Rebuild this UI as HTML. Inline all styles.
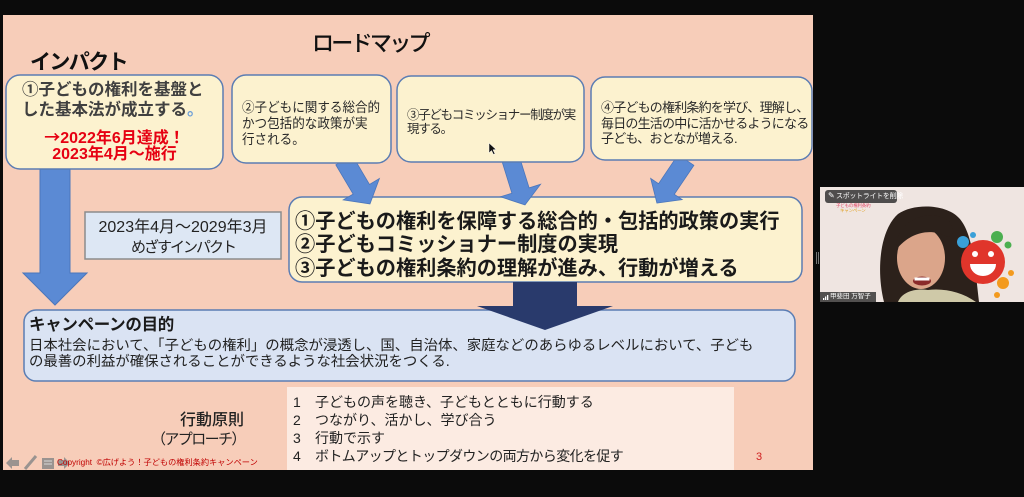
<!DOCTYPE html>
<html><head><meta charset="utf-8">
<style>
html,body{margin:0;padding:0;}
body{width:1024px;height:497px;background:#0b0b0b;position:relative;overflow:hidden;font-family:"Liberation Sans","Noto Sans CJK JP",sans-serif;}
svg{position:absolute;left:0;top:0;}
.t{position:absolute;white-space:nowrap;line-height:1;}
</style></head><body>
<svg width="1024" height="497" viewBox="0 0 1024 497">
  <!-- slide background -->
  <rect x="3" y="15" width="810" height="455" fill="#f7cdb9"/>
  <!-- lower principle box -->
  <rect x="287" y="387" width="447" height="83" fill="#fcebe2"/>
  <!-- date box -->
  <rect x="85" y="212" width="196" height="47" fill="#dde7f4" stroke="#8c8c8c" stroke-width="1.5"/>
  <!-- vertical big arrow -->
  <polygon points="40,168 70,168 70,273 87,273 55,305 23,273 40,273" fill="#5b8ad4" stroke="#4b76bb" stroke-width="1"/>
  <!-- campaign box -->
  <rect x="24" y="310" width="771" height="71" rx="12" fill="#dae3f3" stroke="#5b7db3" stroke-width="1.5"/>
  <!-- big yellow box -->
  <rect x="289" y="197" width="513" height="85" rx="13" fill="#fcf2cf" stroke="#5b7db3" stroke-width="1.5"/>
  <!-- dark arrow -->
  <polygon points="513,282 577,282 577,306 613,306 545,330 477,306 513,306" fill="#293a6c"/>
  <!-- diagonal arrows -->
  <g fill="#5b8ad4" stroke="#4b76bb" stroke-width="0.8">
    <polygon transform="translate(344,160) rotate(-30.6)" points="-9.5,0 9.5,0 9.5,34 21,34 0,51 -21,34 -9.5,34"/>
    <polygon transform="translate(511,160) rotate(-17.3)" points="-9,0 9,0 9,32 21,32 0,47 -21,32 -9,32"/>
    <polygon transform="translate(686,160) rotate(34)" points="-9.5,0 9.5,0 9.5,35 19,35 0,52 -19,35 -9.5,35"/>
  </g>
  <!-- top boxes -->
  <rect x="6" y="75" width="217" height="94" rx="14" fill="#fcf2cf" stroke="#5b7db3" stroke-width="1.5"/>
  <rect x="232" y="75" width="159" height="88" rx="14" fill="#fcf2cf" stroke="#5b7db3" stroke-width="1.5"/>
  <rect x="397" y="76" width="187" height="86" rx="14" fill="#fcf2cf" stroke="#5b7db3" stroke-width="1.5"/>
  <rect x="591" y="77" width="221" height="83" rx="14" fill="#fcf2cf" stroke="#5b7db3" stroke-width="1.5"/>
  <!-- mouse cursor -->
  <polygon points="489,143 489,153 491.5,150.5 493.5,154.5 495,153.8 493,149.8 496,149.5" fill="#111" stroke="#fff" stroke-width="0.5"/>
  <!-- bottom-left toolbar icons -->
  <g fill="#8a8a8a" opacity="0.85">
    <polygon points="6,463 12,457 12,460 19,460 19,466 12,466 12,469"/>
    <line x1="25" y1="469" x2="36" y2="456" stroke="#8a8a8a" stroke-width="3"/>
    <rect x="42" y="458" width="12" height="11"/>
    <polygon points="70,463 64,457 64,460 58,460 58,466 64,466 64,469"/>
  </g>
  <g stroke="#d8d8d8" stroke-width="1">
    <line x1="44" y1="461" x2="52" y2="461"/>
    <line x1="44" y1="464" x2="52" y2="464"/>
  </g>
  <!-- separator handle -->
  <rect x="816" y="252" width="1" height="12" fill="#777"/>
  <rect x="818" y="252" width="1" height="12" fill="#777"/>
  <!-- video panel -->
  <rect x="820" y="187" width="204" height="115" fill="#efe5e1"/>
  <path d="M884,302 C876,270 880,230 898,214 C914,203 946,204 959,218 C973,233 975,268 979,302 Z" fill="#2c211b"/>
  <path d="M898,302 C902,292 915,288 928,290 C944,288 962,292 976,302 Z" fill="#cfc9a8"/>
  <ellipse cx="921" cy="258" rx="24" ry="31" fill="#dba58a"/>
  <path d="M896,246 C898,220 928,208 948,220 C956,228 954,240 946,236 C930,228 910,232 896,250 Z" fill="#2c211b"/>
  <ellipse cx="922" cy="281" rx="9" ry="4.5" fill="#8a2a2a"/>
  <rect x="914.5" y="277.5" width="15" height="3" fill="#fff"/>
  <!-- smiley -->
  <circle cx="983" cy="262" r="22" fill="#e0352b"/>
  <circle cx="975" cy="254" r="3" fill="#fff"/>
  <circle cx="991" cy="254" r="3" fill="#fff"/>
  <path d="M970,264 L996,264 A13,12 0 0 1 970,264 Z" fill="#fff"/>
  <circle cx="963" cy="242" r="6" fill="#3aa0d8"/>
  <circle cx="973" cy="235" r="3" fill="#3aa0d8"/>
  <circle cx="997" cy="237" r="6" fill="#4caf50"/>
  <circle cx="1008" cy="245" r="3.5" fill="#4caf50"/>
  <circle cx="1003" cy="283" r="6" fill="#f39a1e"/>
  <circle cx="1011" cy="273" r="3" fill="#f39a1e"/>
  <circle cx="997" cy="295" r="3" fill="#f39a1e"/>
  <!-- labels -->
  <rect x="825" y="190" width="72" height="13" rx="3" fill="#333" opacity="0.85"/>
  <rect x="820" y="292" width="56" height="10" fill="#2a2a2a" opacity="0.8"/>
  <g fill="#fff"><rect x="823" y="298" width="1.3" height="2"/><rect x="825" y="296.5" width="1.3" height="3.5"/><rect x="827" y="295" width="1.3" height="5"/></g>
</svg>

<!-- Slide text -->
<div class="t" style="left:312px;top:32.5px;font-size:22px;letter-spacing:-2.7px;font-weight:500;color:#111;">ロードマップ</div>
<div class="t" style="left:30px;top:52px;font-size:21px;letter-spacing:-1.6px;font-weight:bold;color:#111;">インパクト</div>

<div class="t" style="left:22px;top:82.2px;font-size:16.5px;font-weight:bold;color:#404040;">①子どもの権利を基盤と</div>
<div class="t" style="left:22px;top:102.2px;font-size:16.5px;font-weight:bold;color:#404040;">した基本法が成立する<span style="color:#6fa0d8">。</span></div>
<div class="t" style="left:6px;width:217px;text-align:center;top:127.5px;font-size:16px;font-weight:bold;color:#e60012;"><span style="font-family:'Noto Sans CJK JP',sans-serif;">→</span>2022年6月達成！</div>
<div class="t" style="left:6px;width:217px;text-align:center;top:146.5px;font-size:16px;font-weight:bold;color:#e60012;">2023年4月～施行</div>

<div class="t" style="left:242px;top:100.5px;font-size:13.8px;color:#2a2a2a;transform:scaleX(0.91);transform-origin:left center;">②子どもに関する総合的</div>
<div class="t" style="left:242px;top:116.5px;font-size:13.8px;color:#2a2a2a;transform:scaleX(0.91);transform-origin:left center;">かつ包括的な政策が実</div>
<div class="t" style="left:242px;top:132.5px;font-size:13.8px;color:#2a2a2a;transform:scaleX(0.91);transform-origin:left center;">行される。</div>

<div class="t" style="left:407px;top:109.1px;font-size:12.5px;letter-spacing:-1.3px;color:#2a2a2a;">③子どもコミッショナー制度が実</div>
<div class="t" style="left:407px;top:123.1px;font-size:12.5px;letter-spacing:-1.3px;color:#2a2a2a;">現する。</div>

<div class="t" style="left:601px;top:100.9px;font-size:13px;letter-spacing:-0.8px;color:#2a2a2a;">④子どもの権利条約を学び、理解し、</div>
<div class="t" style="left:601px;top:116.9px;font-size:13px;letter-spacing:-0.8px;color:#2a2a2a;">毎日の生活の中に活かせるようになる</div>
<div class="t" style="left:601px;top:131.9px;font-size:13px;letter-spacing:-0.8px;color:#2a2a2a;">子ども、おとなが増える.</div>

<div class="t" style="left:85px;width:196px;text-align:center;top:219.5px;font-size:16px;color:#222;">2023年4月～2029年3月</div>
<div class="t" style="left:85px;width:196px;text-align:center;top:239.5px;font-size:15px;letter-spacing:-2px;color:#222;">めざすインパクト</div>

<div class="t" style="left:295px;top:211.5px;font-size:20.2px;font-weight:bold;color:#1a1a1a;">①子どもの権利を保障する総合的・包括的政策の実行</div>
<div class="t" style="left:295px;top:234.5px;font-size:20.2px;font-weight:bold;color:#1a1a1a;">②子どもコミッショナー制度の実現</div>
<div class="t" style="left:295px;top:258.5px;font-size:20.2px;font-weight:bold;color:#1a1a1a;">③子どもの権利条約の理解が進み、行動が増える</div>

<div class="t" style="left:29px;top:317.2px;font-size:16.5px;font-weight:bold;letter-spacing:-0.3px;color:#1a1a1a;">キャンペーンの目的</div>
<div class="t" style="left:29px;top:339.2px;font-size:14.4px;color:#222;">日本社会において、「子どもの権利」の概念が浸透し、国、自治体、家庭などのあらゆるレベルにおいて、子ども</div>
<div class="t" style="left:29px;top:355.2px;font-size:14.4px;color:#222;">の最善の利益が確保されることができるような社会状況をつくる.</div>

<div class="t" style="left:180px;top:412.5px;font-size:16px;color:#222;font-weight:500;">行動原則</div>
<div class="t" style="left:151px;top:432px;font-size:15px;letter-spacing:-1.6px;color:#222;">（アプローチ）</div>

<div class="t" style="left:293px;top:395.4px;font-size:14px;color:#222;">1</div>
<div class="t" style="left:315px;top:395.4px;font-size:14px;color:#222;">子どもの声を聴き、子どもとともに行動する</div>
<div class="t" style="left:293px;top:413.4px;font-size:14px;color:#222;">2</div>
<div class="t" style="left:315px;top:413.4px;font-size:14px;color:#222;">つながり、活かし、学び合う</div>
<div class="t" style="left:293px;top:431.4px;font-size:14px;color:#222;">3</div>
<div class="t" style="left:315px;top:431.4px;font-size:14px;color:#222;">行動で示す</div>
<div class="t" style="left:293px;top:449.4px;font-size:14px;color:#222;">4</div>
<div class="t" style="left:315px;top:449.4px;font-size:14px;letter-spacing:-0.6px;color:#222;">ボトムアップとトップダウンの両方から変化を促す</div>

<div class="t" style="left:57px;top:459px;font-size:8.2px;color:#c00000;">Copyright &nbsp;©広げよう！子どもの権利条約キャンペーン</div>
<div class="t" style="left:756px;top:451.8px;font-size:11px;color:#d02020;">3</div>

<!-- video panel text -->
<div class="t" style="left:836px;top:192.5px;font-size:7px;color:#fff;letter-spacing:-0.3px;">スポットライトを削除</div>
<div class="t" style="left:828px;top:192px;font-size:8px;color:#fff;">✎</div>
<div class="t" style="left:836px;top:204px;font-size:4.5px;color:#e04a6a;letter-spacing:-0.2px;">子どもの権利条約</div>
<div class="t" style="left:840px;top:209px;font-size:4.5px;color:#e0a020;letter-spacing:-0.2px;">キャンペーン</div>
<div class="t" style="left:830px;top:294px;font-size:6.5px;color:#fff;">甲斐田 万智子</div>
</body></html>
